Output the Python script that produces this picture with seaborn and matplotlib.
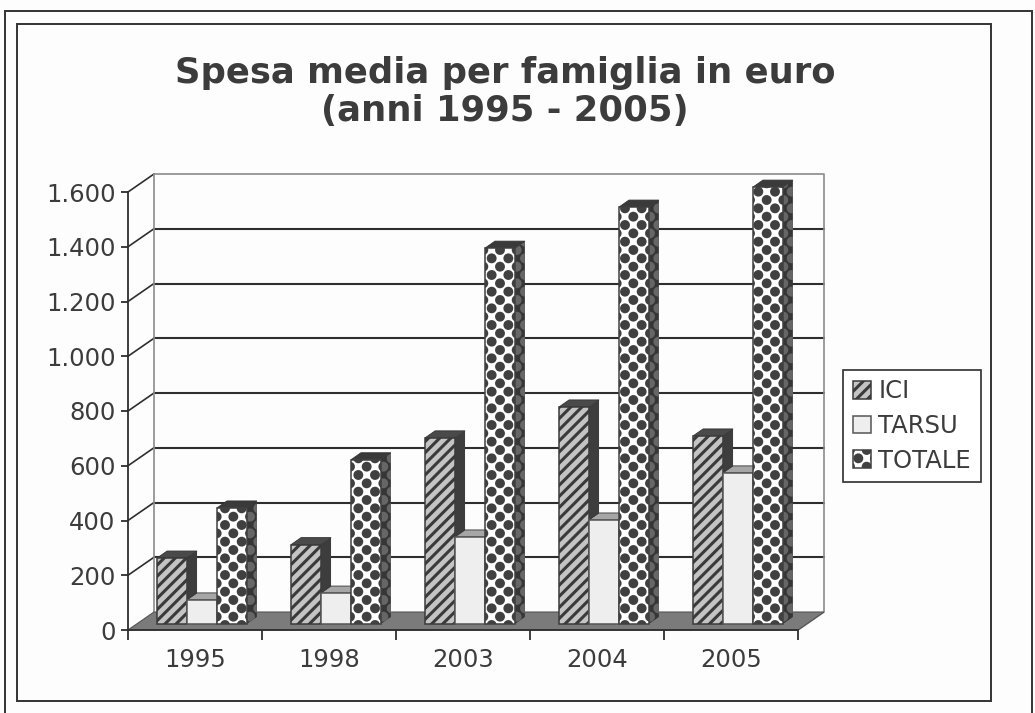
import numpy as np
import pandas as pd
import matplotlib
matplotlib.use("Agg")
import matplotlib.pyplot as plt
import matplotlib.hatch as mhatch
from matplotlib.path import Path
from matplotlib.patches import Polygon, Rectangle
import seaborn as sns

anni = ["1995", "1998", "2003", "2004", "2005"]
ici = [241, 290, 680, 793, 687]
tarsu = [88, 113, 318, 380, 552]
totale = [424, 600, 1373, 1523, 1596]
voci = ["ICI", "TARSU", "TOTALE"]
yticks = [0, 200, 400, 600, 800, 1000, 1200, 1400, 1600]
ylabels = ["0", "200", "400", "600", "800", "1.000", "1.200", "1.400", "1.600"]

W, H = 1035, 713
TXT = "#3c3c3c"
DARK = "#2e2e2e"


# the '.' hatch becomes the tight lattice of balls of the TOTALE bars
class Balls(mhatch.HatchPatternBase):
    def __init__(self, hatch, density):
        n = hatch.count(".")
        self.verts = []
        if n:
            rows, cols = 2 * density, density
            circle = Path.unit_circle()
            for r in range(rows + 1):
                xs = np.arange(cols + 1) / cols if r % 2 == 0 else (np.arange(cols) + 0.5) / cols
                for x in xs:
                    self.verts.append(circle.vertices * 0.034 + [x, r / rows])
            self.code = circle.codes
        self.num_vertices = sum(len(v) for v in self.verts)

    def set_vertices_and_codes(self, vertices, codes):
        k = 0
        for v in self.verts:
            vertices[k:k + len(v)] = v
            codes[k:k + len(v)] = self.code
            k += len(v)


mhatch._hatch_types[mhatch._hatch_types.index(mhatch.SmallFilledCircles)] = Balls

sns.set_theme(style="white")
plt.rcParams["font.family"] = ["DejaVu Sans"]
plt.rcParams["hatch.linewidth"] = 2.2

df = pd.DataFrame({
    "anno": anni * 3,
    "voce": np.repeat(voci, len(anni)),
    "valore": ici + tarsu + totale,
})

fig = plt.figure(figsize=(W / 100, H / 100), dpi=100, facecolor="#fdfdfd")


def px_axes(x0, y0, x1, y1):
    return fig.add_axes([x0 / W, 1 - y1 / H, (x1 - x0) / W, (y1 - y0) / H])


# front plane with the axis, bars sit on a second one shifted into the floor
ax = px_axes(128, 192, 798, 630)
bx = px_axes(135, 186, 805, 624)
for a in (ax, bx):
    a.set_xlim(-0.5, 4.5)
    a.set_ylim(0, 1600)
ax.patch.set_alpha(0)

wall_dx, wall_dy = 26 / 134, 18 * 1600 / 438
bar_dx, bar_dy = 10 / 134, 7 * 1600 / 438

# floor and walls
ax.add_patch(Polygon([(-0.5, 0), (4.5, 0), (4.5 + wall_dx, wall_dy), (-0.5 + wall_dx, wall_dy)],
                     closed=True, facecolor="#7b7b7b", edgecolor="#555555", lw=0.8, clip_on=False, zorder=2))
xl, xr = -0.5 + wall_dx, 4.5 + wall_dx
for v in yticks[1:-1]:
    ax.plot([xl, xr], [v + wall_dy, v + wall_dy], color=DARK, lw=1.5, clip_on=False, zorder=1)
for v in yticks[1:]:
    ax.plot([-0.5, xl], [v, v + wall_dy], color=DARK, lw=1.2, clip_on=False, zorder=1)
ax.plot([xl, xl, xr, xr, 4.5], [wall_dy, 1600 + wall_dy, 1600 + wall_dy, wall_dy, 0],
        color="#8c8c8c", lw=1.2, clip_on=False, zorder=1)

sns.barplot(data=df, x="anno", y="valore", hue="voce", hue_order=voci,
            palette={"ICI": "#c4c4c4", "TARSU": "#eeeeee", "TOTALE": "#ffffff"},
            width=0.67, gap=0, saturation=1, legend=False, ax=bx)
bx.set_xlim(-0.5, 4.5)
bx.set_ylim(0, 1600)
bx.axis("off")

stili = [
    {"hatch": "///", "edge": "#3a3a3a", "side": "#3d3d3d", "top": "#4a4a4a", "side_hatch": None},
    {"hatch": None, "edge": "#555555", "side": "#8f8f8f", "top": "#a6a6a6", "side_hatch": None},
    {"hatch": ".", "edge": "#404040", "side": "#363636", "top": "#3a3a3a", "side_hatch": "."},
]
for i, (cont, st) in enumerate(zip(bx.containers, stili)):
    z = 3 + i
    for bar in cont:
        x0, x1 = bar.get_x(), bar.get_x() + bar.get_width()
        h = bar.get_height()
        bar.set_hatch(st["hatch"])
        bar.set_edgecolor(st["edge"])
        bar.set_linewidth(1.1)
        bar.set_zorder(z + 0.1)
        bar.set_clip_on(False)
        bx.add_patch(Polygon([(x1, 0), (x1 + bar_dx, bar_dy), (x1 + bar_dx, h + bar_dy), (x1, h)], closed=True,
                             facecolor=st["side"], edgecolor="#666666" if st["side_hatch"] else st["side"],
                             hatch=st["side_hatch"], lw=0, clip_on=False, zorder=z))
        bx.add_patch(Polygon([(x0, h), (x0 + bar_dx, h + bar_dy), (x1 + bar_dx, h + bar_dy), (x1, h)], closed=True,
                             facecolor=st["top"], edgecolor="#333333", lw=0.6, clip_on=False, zorder=z))

# axis
sns.despine(ax=ax)
for s in ("left", "bottom"):
    ax.spines[s].set_color(DARK)
    ax.spines[s].set_linewidth(1.3)
ax.spines["bottom"].set_zorder(6)
ax.set_yticks(yticks, labels=ylabels)
ax.set_xticks(np.arange(-0.5, 5), labels=[""] * 6)
ax.set_xticks(range(5), labels=anni, minor=True)
ax.tick_params(axis="y", length=5, width=1.3, color=DARK, pad=4, labelsize=17.5, labelcolor=TXT, left=True)
ax.tick_params(axis="x", which="major", length=7, width=1.3, color=DARK, bottom=True)
ax.tick_params(axis="x", which="minor", length=0, pad=13, labelsize=17.5, labelcolor=TXT)
ax.set_xlabel("")
ax.set_ylabel("")

# title
fig.text(505 / W, 1 - 92 / H, "Spesa media per famiglia in euro\n(anni 1995 - 2005)",
         ha="center", va="center", fontsize=25.5, fontweight="bold", color=TXT, linespacing=1.15)

# legend
leg = bx.legend(bx.containers, voci, loc="center", bbox_to_anchor=(912 / W, 1 - 426 / H),
                bbox_transform=fig.transFigure, frameon=True, fancybox=False, framealpha=1,
                edgecolor=DARK, fontsize=17.5, labelcolor=TXT, handlelength=0.75, handleheight=0.75,
                handletextpad=0.3, labelspacing=0.44, borderpad=0.4, borderaxespad=0)
leg.get_frame().set_linewidth(1.2)
leg.set_zorder(10)

# double frame of the scanned page
for x0, y0, x1, y1 in [(5, 11, 1032, H + 20), (17, 24, 991, 701)]:
    fig.add_artist(Rectangle((x0 / W, 1 - y1 / H), (x1 - x0) / W, (y1 - y0) / H, transform=fig.transFigure,
                             fill=False, edgecolor="#333333", lw=1.4))

fig.savefig("out.png", dpi=100, facecolor=fig.get_facecolor())
